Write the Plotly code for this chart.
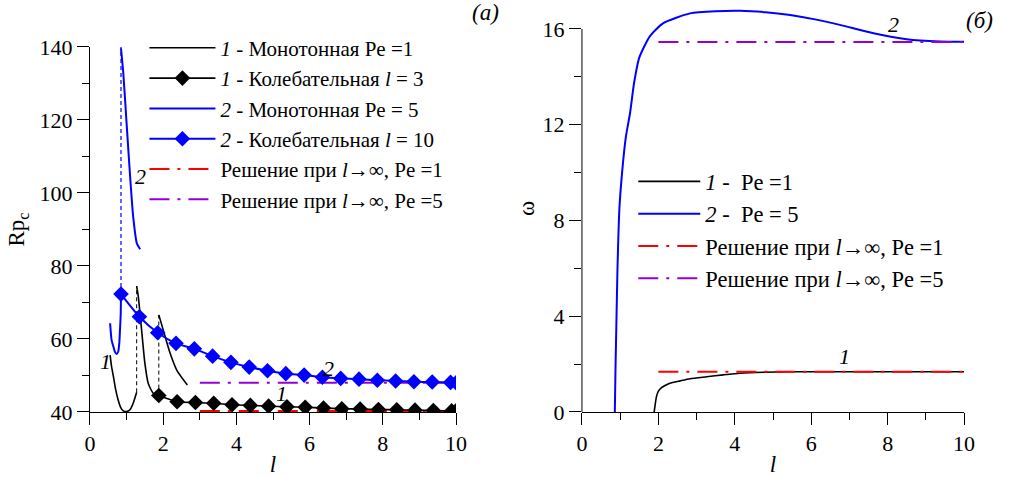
import plotly.graph_objects as go

# ---------------- panel (a): critical Rp_c versus l ----------------
# curve 1, Pe = 1, monotonic instability: three branches
mono1_a_x = [0.55, 0.59, 0.64, 0.70, 0.77, 0.84, 0.91, 1.00, 1.09, 1.18, 1.275]
mono1_a_y = [55.6, 52.4, 49.7, 46.2, 43.3, 41.2, 40.3, 40.1, 40.6, 42.4, 45.4]
mono1_b_x = [1.275, 1.32, 1.41, 1.50, 1.59, 1.73, 1.88]
mono1_b_y = [74.5, 71.6, 62.5, 53.3, 47.9, 45.1, 44.5]
mono1_c_x = [1.88, 2.00, 2.19, 2.37, 2.66]
mono1_c_y = [66.6, 62.5, 56.1, 51.5, 47.4]

# curve 1, Pe = 1, oscillatory instability
osc1_x = [1.88, 2.38, 2.88, 3.38, 3.88, 4.38, 4.88, 5.38, 5.88, 6.38,
          6.88, 7.38, 7.88, 8.38, 8.88, 9.38, 9.88]
osc1_y = [44.5, 42.8, 42.6, 42.4, 42.0, 41.8, 41.6, 41.4, 41.3, 41.1,
          40.9, 40.8, 40.7, 40.6, 40.5, 40.4, 40.3]

# curve 2, Pe = 5, monotonic instability: two branches
mono2_a_x = [0.55, 0.59, 0.64, 0.68, 0.73, 0.77, 0.80, 0.82, 0.84, 0.847]
mono2_a_y = [64.3, 59.7, 57.9, 56.5, 55.9, 56.5, 58.8, 62.5, 67.0, 72.3]
mono2_b_x = [0.847, 0.91, 1.00, 1.09, 1.18, 1.28, 1.37]
mono2_b_y = [139.6, 132.8, 119.1, 105.4, 93.5, 86.2, 84.6]

# curve 2, Pe = 5, oscillatory instability
osc2_x = [0.847, 1.35, 1.85, 2.35, 2.85, 3.35, 3.85, 4.35, 4.85, 5.35,
          5.85, 6.35, 6.85, 7.35, 7.85, 8.35, 8.85, 9.35, 9.85]
osc2_y = [72.3, 66.1, 61.7, 58.8, 57.3, 55.3, 53.6, 52.3, 51.3, 50.5,
          50.1, 49.5, 49.2, 49.0, 48.7, 48.5, 48.3, 48.2, 48.1]

# asymptotic solutions for l -> infinity
inf_a_x = [3.0, 10.0]
inf1_a_y = [40.3, 40.3]
inf2_a_y = [48.0, 48.0]

# ---------------- panel (б): frequency omega versus l ----------------
om1_x = [1.89, 1.92, 1.95, 2.00, 2.09, 2.20, 2.30, 2.57, 2.83, 3.26,
         3.70, 4.14, 4.75, 5.50, 6.50, 8.00, 10.0]
om1_y = [0.0, 0.35, 0.64, 0.87, 1.03, 1.13, 1.20, 1.30, 1.39, 1.47,
         1.55, 1.62, 1.66, 1.68, 1.68, 1.68, 1.68]
om2_x = [0.86, 0.88, 0.90, 0.93, 0.98, 1.05, 1.15, 1.26, 1.36, 1.50,
         1.78, 2.13, 2.83, 3.50, 4.14, 4.80, 5.45, 6.10, 6.75, 7.63,
         8.50, 9.37, 10.0]
om2_y = [0.0, 2.0, 3.6, 6.0, 8.5, 10.0, 11.5, 12.5, 13.7, 14.8,
         15.7, 16.24, 16.65, 16.74, 16.76, 16.70, 16.58, 16.40, 16.17, 15.82,
         15.57, 15.48, 15.47]
inf_b_x = [2.0, 10.0]
inf1_b_y = [1.68, 1.68]
inf2_b_y = [15.45, 15.45]

# styling
FONT = "Liberation Serif, Times New Roman, DejaVu Serif, serif"
BLACK, BLUE, RED, VIOLET = "#000000", "#0000ff", "#ff0000", "#9400d3"
DASHDOT = "20px,8px,3px,8px"
JUMP = "4px,3px"

fig = go.Figure()


def add(x, y, color, width, name=None, dash="solid", marker=False,
        xa="x", ya="y", legend="legend", rank=None, spline=True):
    fig.add_trace(go.Scatter(
        x=x, y=y, xaxis=xa, yaxis=ya,
        mode="lines+markers" if marker else "lines",
        line=dict(color=color, width=width, dash=dash,
                  shape="spline" if spline else "linear", smoothing=0.6),
        marker=dict(symbol="diamond", size=12, color=color) if marker else None,
        name=name, showlegend=name is not None, legend=legend,
        legendrank=rank if rank is not None else 1000,
        hoverinfo="skip",
    ))


# panel (a): asymptotes first so the curves sit on top
add(inf_a_x, inf1_a_y, RED, 2, dash=DASHDOT, spline=False,
    name="Решение при <i>l</i>→∞, Pe =1", rank=5)
add(inf_a_x, inf2_a_y, VIOLET, 2, dash=DASHDOT, spline=False,
    name="Решение при <i>l</i>→∞, Pe =5", rank=6)

# jumps between branches (thin dashed verticals)
add([mono1_a_x[-1], mono1_b_x[0]], [mono1_a_y[-1], mono1_b_y[0]], BLACK, 1,
    dash=JUMP, spline=False)
add([mono1_b_x[-1], mono1_c_x[0]], [mono1_b_y[-1], mono1_c_y[0]], BLACK, 1,
    dash=JUMP, spline=False)
add([mono2_a_x[-1], mono2_b_x[0]], [mono2_a_y[-1], 140], BLUE, 1.2,
    dash=JUMP, spline=False)

add(mono1_a_x, mono1_a_y, BLACK, 1.6, name="<i>1</i> - Монотонная Pe =1", rank=1)
add(mono1_b_x, mono1_b_y, BLACK, 1.6)
add(mono1_c_x, mono1_c_y, BLACK, 1.6)
add(osc1_x + [10.0], osc1_y + [40.3], BLACK, 1.6, marker=True,
    name="<i>1</i> - Колебательная <i>l</i> = 3", rank=2)
add(mono2_a_x, mono2_a_y, BLUE, 2, name="<i>2</i> - Монотонная Pe = 5", rank=3)
add(mono2_b_x, mono2_b_y, BLUE, 2)
add(osc2_x + [10.0], osc2_y + [48.0], BLUE, 2, marker=True,
    name="<i>2</i> - Колебательная <i>l</i> = 10", rank=4)

# panel (б)
add(om1_x, om1_y, BLACK, 1.6, xa="x2", ya="y2", legend="legend2",
    name="<i>1</i> -  Pe =1", rank=1)
add(om2_x, om2_y, BLUE, 2, xa="x2", ya="y2", legend="legend2",
    name="<i>2</i> -  Pe = 5", rank=2)
add(inf_b_x, inf1_b_y, RED, 2, dash=DASHDOT, spline=False, xa="x2", ya="y2",
    legend="legend2", name="Решение при <i>l</i>→∞, Pe =1", rank=3)
add(inf_b_x, inf2_b_y, VIOLET, 2, dash=DASHDOT, spline=False, xa="x2", ya="y2",
    legend="legend2", name="Решение при <i>l</i>→∞, Pe =5", rank=4)

axis_common = dict(
    showline=True, linecolor="black", linewidth=1, mirror=False,
    ticks="outside", ticklen=12, tickwidth=1, tickcolor="black",
    showgrid=False, zeroline=False, automargin=False,
    tickfont=dict(family=FONT, size=22, color="black"),
    minor=dict(ticks="outside", ticklen=7, tickwidth=1, tickcolor="black",
               showgrid=False),
)
title_font = dict(family=FONT, size=23, color="black")

fig.update_layout(
    width=1010, height=477,
    margin=dict(l=0, r=0, t=0, b=0, autoexpand=False),
    paper_bgcolor="white", plot_bgcolor="white",
    font=dict(family=FONT, size=22, color="black"),
    xaxis=dict(axis_common, domain=[0.0891, 0.4515], range=[0, 10], dtick=2,
               minor_dtick=1, anchor="y",
               title=dict(text="<i>l</i>", font=title_font, standoff=6)),
    yaxis=dict(axis_common, domain=[0.1363, 0.9015], range=[40, 140], dtick=20,
               minor_dtick=10, anchor="x",
               title=dict(text="Rp<sub>c</sub>", font=title_font, standoff=8)),
    xaxis2=dict(axis_common, domain=[0.5762, 0.9545], range=[0, 10], dtick=2,
                minor_dtick=1, anchor="y2",
                title=dict(text="<i>l</i>", font=title_font, standoff=6)),
    # the curve for Pe = 5 overshoots 16, so the range runs a bit higher
    # while the axis line itself is drawn only up to 16 (shape below)
    yaxis2=dict(axis_common, showline=False, domain=[0.1363, 0.9895],
                range=[0, 17], tickvals=[0, 4, 8, 12, 16],
                minor=dict(ticks="outside", ticklen=7, tickwidth=1,
                           tickcolor="black", showgrid=False,
                           tickvals=[2, 6, 10, 14]),
                anchor="x2",
                title=dict(text="ω", font=title_font, standoff=1)),
    legend=dict(x=0.143, y=0.942, xanchor="left", yanchor="top",
                bgcolor="rgba(0,0,0,0)", itemwidth=66,
                font=dict(family=FONT, size=21, color="black"),
                traceorder="normal"),
    legend2=dict(x=0.627, y=0.664, xanchor="left", yanchor="top",
                 bgcolor="rgba(0,0,0,0)", itemwidth=62,
                 font=dict(family=FONT, size=22.5, color="black"),
                 traceorder="normal"),
    showlegend=True,
)

# vertical axis line of panel (б), from 0 to 16
fig.add_shape(type="line", xref="x2 domain", yref="y2", x0=0, x1=0, y0=0, y1=16,
              line=dict(color="black", width=1))

# curve numbers and panel letters
notes = [
    ("x", "y", 0.41, 53.7, "<i>1</i>"),
    ("x", "y", 5.24, 45.1, "<i>1</i>"),
    ("x", "y", 6.51, 52.0, "<i>2</i>"),
    ("x", "y", 1.37, 104.5, "<i>2</i>"),
    ("x2", "y2", 8.15, 16.2, "<i>2</i>"),
    ("x2", "y2", 6.88, 2.31, "<i>1</i>"),
]
for xr, yr, xv, yv, txt in notes:
    fig.add_annotation(xref=xr, yref=yr, x=xv, y=yv, text=txt, showarrow=False,
                       font=dict(family=FONT, size=22, color="black"))

fig.add_annotation(xref="paper", yref="paper", x=0.481, y=0.973, text="<i>(а)</i>",
                   xanchor="center", yanchor="middle", showarrow=False,
                   font=dict(family=FONT, size=23, color="black"))
fig.add_annotation(xref="paper", yref="paper", x=0.970, y=0.958, text="<i>(б)</i>",
                   xanchor="center", yanchor="middle", showarrow=False,
                   font=dict(family=FONT, size=23, color="black"))

fig.write_html("out.html")
